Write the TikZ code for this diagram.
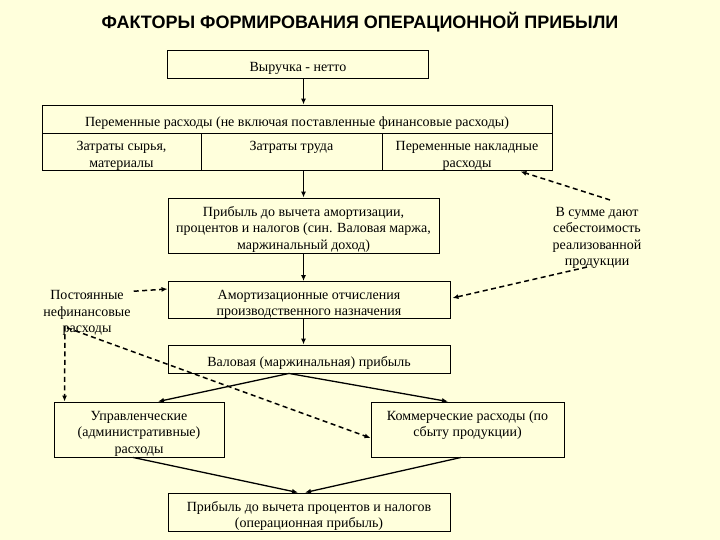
\documentclass[tikz,border=0pt]{standalone}
\usepackage{fontspec}
\setmainfont{Liberation Serif}
\newfontfamily\titlefont{Liberation Sans}
\usepackage{xcolor}
\usetikzlibrary{arrows.meta,calc,positioning}
\definecolor{paper}{HTML}{FFFFDC}
% box text sits a little low, as in the source
\newcommand{\boxtext}[1]{\raisebox{0pt}[\dimexpr\height+4pt][\dimexpr\depth-4pt]{\begin{tabular}{@{}c@{}}#1\end{tabular}}}
\tikzset{
  box/.style={draw,line width=0.9pt,inner sep=2pt,align=center,
    font=\fontsize{14}{16.5}\selectfont},
  note/.style={inner sep=1pt,align=center,font=\fontsize{14}{16.5}\selectfont},
  arr/.style={-{Latex[length=6pt,width=5pt]},line width=1.3pt},
  darr/.style={-{Latex[length=6pt,width=5pt]},line width=1.5pt,dash pattern=on 5pt off 3.5pt},
}
\begin{document}
\begin{tikzpicture}[x=1pt,y=-1pt]
  \fill[paper] (0,0) rectangle (720,540);
  \useasboundingbox (0,0) rectangle (720,540);
  \node (title) at (360,22) {\titlefont\bfseries\fontsize{18}{20}\selectfont ФАКТОРЫ ФОРМИРОВАНИЯ ОПЕРАЦИОННОЙ ПРИБЫЛИ};
  % chain of results
  \node[box,minimum width=261pt,minimum height=28pt] (rev) at (298,64) {\boxtext{Выручка - нетто}};
  \node[box,minimum width=510pt,minimum height=28pt] (varhead) at (297,119) {\boxtext{Переменные расходы (не включая поставленные финансовые расходы)}};
  \node[box,minimum width=159pt,minimum height=37pt] (raw) at (121.5,151.5) {\boxtext{Затраты сырья,\\материалы}};
  \node[box,minimum width=181pt,minimum height=37pt] (labour) at (291.5,151.5) {\boxtext{Затраты труда\\~}};
  \node[box,minimum width=170pt,minimum height=37pt] (over) at (467,151.5) {\boxtext{Переменные накладные\\расходы}};
  \node[box,minimum width=271pt,minimum height=55pt] (ebitda) at (303.5,225.5) {\boxtext{Прибыль до вычета амортизации,\\процентов и налогов (син. Валовая маржа,\\маржинальный доход)}};
  \node[box,minimum width=282pt,minimum height=36pt] (amort) at (309,300) {\boxtext{Амортизационные отчисления\\производственного назначения}};
  \node[box,minimum width=282pt,minimum height=28pt] (gross) at (309,359) {\boxtext{Валовая (маржинальная) прибыль}};
  \node[box,minimum width=170pt,minimum height=55pt] (admin) at (139,429.5) {\boxtext{Управленческие\\(административные)\\расходы}};
  \node[box,minimum width=193pt,minimum height=55pt] (comm) at (467.5,429.5) {\boxtext{Коммерческие расходы (по\\сбыту продукции)\\~}};
  \node[box,minimum width=282pt,minimum height=38pt] (ebit) at (309,512) {\boxtext{Прибыль до вычета процентов и налогов\\(операционная прибыль)}};
  % side notes
  \node[note] (fixed) at (87,313) {Постоянные\\нефинансовые\\расходы};
  \node[note] (sum) at (597,238) {В сумме дают\\себестоимость\\реализованной\\продукции};
  % solid arrows
  \draw[arr] (ebitda.north |- rev.south) -- (ebitda.north |- varhead.north);
  \draw[arr] (ebitda.north |- labour.south) -- (ebitda.north);
  \draw[arr] (ebitda.south) -- (ebitda.south |- amort.north);
  \draw[arr] (ebitda.south |- amort.south) -- (ebitda.south |- gross.north);
  \coordinate (split) at ($(gross.south)+(-20,0)$);
  \draw[arr] (split) -- ($(admin.north)+(19,0)$);
  \draw[arr] (split) -- ($(comm.north)+(-19.5,0)$);
  \draw[arr] ($(admin.south)+(-6,0)$) -- ($(ebit.north)+(-11,0)$);
  \draw[arr] ($(comm.south)+(-6.5,0)$) -- ($(ebit.north)+(-4,0)$);
  % dashed arrows
  \draw[darr] ($(fixed.north east)+(2,2)$) -- ($(amort.west)+(0,-11)$);
  \draw[darr] ($(fixed.south)+(-22,-11)$) -- ($(admin.north west)+(11,0)$);
  \draw[darr] ($(fixed.south)+(-20,-9)$) -- ($(comm.west)+(0,8.5)$);
  \draw[darr] ($(sum.north)+(13,-6)$) -- ($(over.south east)+(-32,1)$);
  \draw[darr] ($(sum.south)+(-10,-3)$) -- ($(amort.east)+(2,-2)$);
\end{tikzpicture}
\end{document}
